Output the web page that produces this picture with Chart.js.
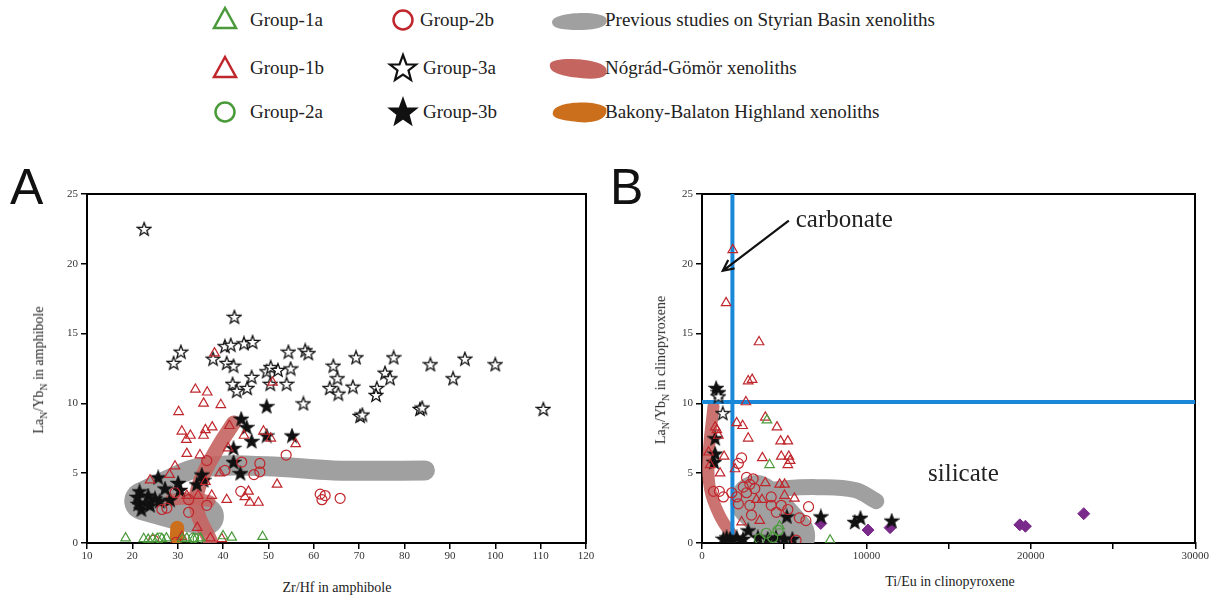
<!DOCTYPE html>
<html lang="en">
<head>
<meta charset="UTF-8">
<title>La/Yb vs Zr/Hf and Ti/Eu</title>
<script src="https://cdn.jsdelivr.net/npm/chart.js"></script>
<style>
  body { margin: 0; width: 1223px; height: 600px; position: relative; background: #fff; font-family: "Liberation Serif", serif; overflow: hidden; }
  .lg { position: absolute; font-size: 19px; color: #222; line-height: 22px; }
  .mk { position: absolute; }
  .big { position: absolute; font-family: "Liberation Sans", Arial, sans-serif; font-size: 50px; color: #111; }
  .ax { position: absolute; font-size: 14px; color: #222; white-space: nowrap; }
  .ax sub { font-size: 10px; }
  .rot { transform: translate(-50%, -50%) rotate(-90deg); }
  .box { position: absolute; top: 184px; height: 384px; }
</style>
</head>
<body>
<!-- legend -->
<svg class="mk" style="left:0;top:0" width="1223" height="140">
  <polygon points="225,8 236,28 214,28" fill="none" stroke="#4a9a3a" stroke-width="2.5"/>
  <polygon points="225,57 236,77 214,77" fill="none" stroke="#c0272d" stroke-width="2.5"/>
  <circle cx="225" cy="112" r="9.5" fill="none" stroke="#4a9a3a" stroke-width="2.5"/>
  <circle cx="403" cy="20" r="9.5" fill="none" stroke="#c0272d" stroke-width="2.5"/>
  <polygon fill="#fff" stroke="#111" stroke-width="2.2"
    points="403,55 406.5,64.5 416,64.5 408.5,70.5 411,80 403,74.5 395,80 397.5,70.5 390,64.5 399.5,64.5"/>
  <polygon fill="#111" stroke="#111" stroke-width="2"
    points="403,99 406.5,108.5 416,108.5 408.5,114.5 411,124 403,118.5 395,124 397.5,114.5 390,108.5 399.5,108.5"/>
  <path d="M552,22 C552,12 600,10 606,18 C610,26 598,30 580,30 C560,30 552,28 552,22 Z" fill="#a0a0a0"/>
  <path d="M550,64 C552,56 600,58 606,68 C610,78 598,80 580,78 C560,76 548,72 550,64 Z" fill="#c46560"/>
  <path d="M553,112 C555,100 600,100 606,108 C609,118 596,124 578,122 C560,120 551,118 553,112 Z" fill="#cc6f1c"/>
</svg>
<div class="lg" style="left:250px;top:9px">Group-1a</div>
<div class="lg" style="left:250px;top:57px">Group-1b</div>
<div class="lg" style="left:250px;top:101px">Group-2a</div>
<div class="lg" style="left:420px;top:9px">Group-2b</div>
<div class="lg" style="left:423px;top:57px">Group-3a</div>
<div class="lg" style="left:423px;top:101px">Group-3b</div>
<div class="lg" style="left:605px;top:9px">Previous studies on Styrian Basin xenoliths</div>
<div class="lg" style="left:605px;top:57px">Nógrád-Gömör xenoliths</div>
<div class="lg" style="left:605px;top:101px">Bakony-Balaton Highland xenoliths</div>

<div class="big" style="left:10px;top:158px">A</div>
<div class="big" style="left:610px;top:158px">B</div>

<div class="box" style="left:47px;width:549px"><canvas id="chartA"></canvas></div>
<div class="box" style="left:662px;width:548px"><canvas id="chartB"></canvas></div>

<div class="ax" style="left:337px;top:580px;transform:translateX(-50%)">Zr/Hf in amphibole</div>
<div class="ax" style="left:950px;top:574px;transform:translateX(-50%)">Ti/Eu in clinopyroxene</div>
<div class="ax rot" style="left:40px;top:370px">La<sub>N</sub>/Yb<sub>N</sub> in amphibole</div>
<div class="ax rot" style="left:662px;top:370px">La<sub>N</sub>/Yb<sub>N</sub> in clinopyroxene</div>

<script>
// ---- Panel A: Zr/Hf vs LaN/YbN in amphibole ----
const a_g1a = [[18.5,0.35],[22.5,0.3],[23.5,0.25],[24.5,0.3],[25.5,0.3],[26.5,0.3],[27.5,0.35],[31,0.3],[32,0.35],[33.5,0.3],[35,0.35],[40,0.5],[41.9,0.4],[48.7,0.45]];
const a_g1b = [[38.1,13.6],[50.9,11.5],[33.9,11.0],[36.5,10.8],[35.7,10.0],[39.5,9.9],[30.2,9.4],[30.9,8.0],[32.8,7.7],[31.9,7.4],[35.7,7.7],[36.1,8.1],[37.6,8.3],[41.4,8.4],[44.6,7.7],[48.9,8.0],[50.5,7.5],[56.0,7.1],[41.1,6.8],[32.0,6.4],[34.9,6.3],[29.4,5.5],[28.2,4.9],[23.9,4.5],[39.3,5.0],[36.1,4.4],[51.9,4.2],[45.6,3.7],[44.8,3.3],[45.9,2.9],[47.8,2.9],[40.8,3.1],[37.5,3.4],[34.5,3.4],[32.0,3.4],[34.3,1.1],[30.9,0.45],[37.2,0.35],[39.7,0.3]];
const a_g2a = [[33.5,0.35],[34.5,0.3],[26,0.35]];
const a_g2b = [[36.4,5.9],[44.1,5.8],[48.1,5.7],[48.1,5.1],[46.8,4.9],[40.4,5.2],[53.9,6.3],[43.9,3.7],[61.4,3.5],[62.5,3.4],[61.8,3.1],[65.8,3.2],[36.4,2.7],[32.4,3.1],[32.4,2.2],[27.6,2.5],[26.5,2.4],[29.4,3.6],[24.7,0.2],[29.6,0.05]];
const a_g3a = [[22.6,22.5],[42.5,16.2],[30.7,13.7],[29.1,12.9],[37.8,13.2],[40.4,14.1],[41.7,14.2],[44.6,14.3],[46.5,14.4],[40.8,12.9],[42.3,12.7],[42.1,11.4],[43.0,10.9],[45.3,11.1],[46.3,11.9],[49.6,12.3],[50.5,12.6],[52.1,12.4],[50.4,11.4],[54.0,11.4],[54.9,12.5],[54.4,13.7],[58.1,13.8],[58.8,13.6],[57.7,10.0],[64.3,12.7],[65.2,11.8],[63.5,11.1],[65.4,10.7],[68.6,11.2],[69.3,13.3],[70.2,9.1],[70.7,9.2],[75.7,12.2],[76.8,11.8],[77.6,13.3],[73.9,11.1],[73.7,10.6],[83.4,9.6],[83.9,9.7],[85.7,12.8],[90.7,11.8],[93.3,13.2],[100.0,12.8],[110.6,9.6]];
const a_g3b = [[49.6,9.8],[44.0,8.9],[45.2,8.3],[46.3,7.3],[49.6,7.7],[55.2,7.7],[42.3,6.8],[42.3,5.8],[43.8,5.0],[35.3,4.9],[25.7,4.7],[30.1,4.3],[34.2,4.2],[27.2,3.9],[21.6,3.7],[23.5,3.4],[25.0,3.2],[21.3,2.8],[22.0,2.4],[23.9,2.7],[28.3,3.1],[30.5,3.8],[35.7,4.5],[23.1,2.9],[26.0,3.0],[21.1,3.3]];
const a_styrian = [[21.7,3.6],[27.6,4.5],[34.9,5.4],[49.6,5.5],[64.3,5.2],[84.5,5.2]];
const a_styrianLobe = [[22.4,3.0],[29,2.4],[36,1.9]];
const a_nograd = [[37.1,0.2],[34.2,2.4],[34.9,4.3],[38.6,6.7],[42.3,8.6]];
const a_nogradArm = [[28.5,3.1],[33,3.2],[37,3.0]];
const a_bakony = [[29.8,0.4],[29.9,1.1]];

// ---- Panel B: Ti/Eu vs LaN/YbN in clinopyroxene ----
const b_g1a = [[3950,8.8],[4110,5.6],[7790,0.2],[4720,1.2]];
const b_g1b = [[1870,21.0],[1465,17.2],[3470,14.4],[2810,11.6],[3050,11.7],[2670,10.1],[3850,9.0],[2110,8.6],[2470,8.4],[4560,8.3],[800,8.3],[1000,7.7],[2810,7.5],[4780,7.3],[5220,7.3],[400,6.5],[1345,6.2],[3670,6.1],[4820,6.2],[5280,6.2],[5360,5.9],[5220,5.6],[500,5.6],[2010,5.3],[1100,5.0],[3850,4.3],[4720,4.2],[5020,4.2],[3310,3.1],[3650,3.1],[5020,3.4],[5620,3.2],[2410,1.5],[3510,1.6],[900,8.1]];
const b_g2a = [[3910,0.7],[4620,0.9],[3500,0.3],[4300,0.4]];
const b_g2b = [[2410,6.1],[2210,5.7],[700,3.7],[1060,3.7],[1300,3.3],[1810,3.6],[2110,3.3],[2710,4.7],[3110,4.6],[2510,4.0],[2910,4.2],[3210,3.9],[2710,3.6],[2210,2.8],[2910,2.7],[4210,3.3],[4210,2.7],[4820,2.7],[4520,2.2],[5220,2.4],[5920,1.8],[6320,1.6],[6480,2.6],[3010,2.0],[5720,0.2]];
const b_g3a = [[1000,10.5],[1265,9.3]];
const b_g3b = [[860,11.1],[1000,10.8],[800,7.5],[800,6.4],[740,5.8],[5160,1.9],[7230,1.9],[9290,1.5],[9640,1.8],[11540,1.6],[1300,0.3],[1710,0.3],[2110,0.4],[2810,0.9],[3400,0.4],[4000,0.3],[4500,0.4],[5000,0.3],[5500,0.3],[1500,0.4],[2500,0.3]];
const b_other = [[7225,1.4],[10100,0.93],[11440,1.1],[19330,1.3],[19670,1.2],[23220,2.1]];
const b_styrian = [[3000,3.6],[5000,3.9],[7000,4.0],[9300,3.8],[10600,3.0]];
const b_styrianBlob = [[3300,3.0],[4300,1.8],[5300,0.5]];
const b_nograd = [[700,9.8],[400,6.2],[500,3.8],[1100,1.9],[1900,0.45]];
const b_vLine = [[1850,0],[1850,25]];
const b_hLine = [[0,10.1],[30000,10.1]];
const b_arrowFrom = [5280,23.1];
const b_arrowTo = [1264,19.5];
const b_texts = [["carbonate",5700,23.1,"left"],["silicate",15900,4.9,"center"]];

const GREEN = '#4a9a3a', RED = '#c0272d';
const pts = arr => arr.map(p => ({ x: p[0], y: p[1] }));

function starImg(fill) {
  const c = document.createElement('canvas');
  c.width = 16; c.height = 16;
  const g = c.getContext('2d');
  g.beginPath();
  for (let i = 0; i < 10; i++) {
    const r = i % 2 ? 2.9 : 7;
    const a = -Math.PI / 2 + i * Math.PI / 5;
    g.lineTo(8 + r * Math.cos(a), 8.6 + r * Math.sin(a));
  }
  g.closePath();
  g.fillStyle = fill; g.fill();
  g.lineWidth = 1.3; g.strokeStyle = '#111'; g.stroke();
  return c;
}
const openStar = starImg('#fff'), fullStar = starImg('#111');

function tri(d, col) { return { data: pts(d), pointStyle: 'triangle', radius: 5.5, borderColor: col, backgroundColor: 'rgba(0,0,0,0)', borderWidth: 1.2, order: 1 }; }
function circ(d, col) { return { data: pts(d), pointStyle: 'circle', radius: 5, borderColor: col, backgroundColor: 'rgba(0,0,0,0)', borderWidth: 1.2, order: 1 }; }
function star(d, img) { return { data: pts(d), pointStyle: img, order: 1 }; }
function band(d, col, w, ord) { return { type: 'line', data: pts(d), borderColor: col, borderWidth: w, pointRadius: 0, tension: 0.4, borderCapStyle: 'round', borderJoinStyle: 'round', fill: false, order: ord }; }

// arrow / text annotations in data coordinates
function makeNotes(extra) {
  return {
    id: 'notes',
    afterDraw(chart) {
      const ctx = chart.ctx, x = chart.scales.x, y = chart.scales.y;
      ctx.save();
      if (extra.arrow) {
        const [fx, fy] = extra.arrow[0], [tx, ty] = extra.arrow[1];
        const x1 = x.getPixelForValue(fx), y1 = y.getPixelForValue(fy);
        const x2 = x.getPixelForValue(tx), y2 = y.getPixelForValue(ty);
        const ang = Math.atan2(y2 - y1, x2 - x1);
        ctx.strokeStyle = '#111'; ctx.lineWidth = 2.2;
        ctx.beginPath(); ctx.moveTo(x1, y1); ctx.lineTo(x2, y2);
        ctx.moveTo(x2 - 12 * Math.cos(ang - 0.45), y2 - 12 * Math.sin(ang - 0.45));
        ctx.lineTo(x2, y2);
        ctx.lineTo(x2 - 12 * Math.cos(ang + 0.45), y2 - 12 * Math.sin(ang + 0.45));
        ctx.stroke();
      }
      if (extra.texts) {
        ctx.fillStyle = '#222'; ctx.font = '25px "Liberation Serif"'; ctx.textBaseline = 'middle';
        extra.texts.forEach(([s, tx, ty, al]) => {
          ctx.textAlign = al;
          ctx.fillText(s, x.getPixelForValue(tx), y.getPixelForValue(ty));
        });
      }
      ctx.restore();
    }
  };
}

function makeChart(id, datasets, xmin, xmax, xstep, labelEvery, extra) {
  const frameBorder = { display: true, color: '#000', width: 2 };
  const tickGrid = { display: true, drawOnChartArea: false, drawTicks: true, tickLength: 6, color: '#000', lineWidth: 1.5 };
  return new Chart(document.getElementById(id), {
    type: 'scatter',
    data: { datasets },
    plugins: [makeNotes(extra)],
    options: {
      responsive: true, maintainAspectRatio: false, animation: false,
      layout: { padding: { top: 10, right: 10, left: 0, bottom: 0 } },
      plugins: { legend: { display: false }, tooltip: { enabled: false } },
      scales: {
        x: {
          type: 'linear', min: xmin, max: xmax,
          ticks: { stepSize: xstep, color: '#333', font: { family: 'Liberation Serif', size: 11 }, maxRotation: 0, autoSkip: false, padding: 1,
                   callback: v => (v % labelEvery === 0 ? String(v) : '') },
          grid: tickGrid, border: frameBorder,
          afterFit: s => { s.height = 25; }
        },
        x2: {
          type: 'linear', position: 'top', min: xmin, max: xmax,
          ticks: { display: false }, grid: { display: false }, border: frameBorder,
          afterFit: s => { s.height = 0; }
        },
        y: {
          min: 0, max: 25,
          ticks: { stepSize: 5, color: '#333', font: { family: 'Liberation Serif', size: 11 }, padding: 3 },
          grid: tickGrid, border: frameBorder,
          afterFit: s => { s.width = 40; }
        },
        y2: {
          position: 'right', min: 0, max: 25,
          ticks: { display: false }, grid: { display: false }, border: frameBorder,
          afterFit: s => { s.width = 0; }
        }
      }
    }
  });
}

makeChart('chartA', [
  band(a_styrian, '#a0a0a0', 20, 10),
  band(a_styrianLobe, '#a0a0a0', 38, 10),
  band(a_nogradArm, 'rgba(196,100,96,0.85)', 12, 9),
  band(a_nograd, 'rgba(196,100,96,0.9)', 15, 9),
  band(a_bakony, '#cc6f1c', 14, 8),
  tri(a_g1a, GREEN), circ(a_g2a, GREEN), tri(a_g1b, RED), circ(a_g2b, RED),
  star(a_g3a, openStar), star(a_g3b, fullStar)
], 10, 120, 10, 10, {});

makeChart('chartB', [
  band(b_styrian, '#a0a0a0', 16, 10),
  band(b_styrianBlob, '#a0a0a0', 52, 10),
  band(b_nograd, 'rgba(196,100,96,0.9)', 12, 9),
  { type: 'line', data: pts(b_vLine), borderColor: '#1a88d8', borderWidth: 4, pointRadius: 0, order: 5 },
  { type: 'line', data: pts(b_hLine), borderColor: '#1a88d8', borderWidth: 4, pointRadius: 0, order: 5 },
  tri(b_g1a, GREEN), circ(b_g2a, GREEN), circ(b_g2b, RED), tri(b_g1b, RED),
  star(b_g3a, openStar), star(b_g3b, fullStar),
  { data: pts(b_other), pointStyle: 'rectRot', radius: 6, backgroundColor: '#7a2a8a', borderColor: '#7a2a8a', order: 1 }
], 0, 30000, 5000, 10000, { arrow: [b_arrowFrom, b_arrowTo], texts: b_texts });
</script>
</body>
</html>
